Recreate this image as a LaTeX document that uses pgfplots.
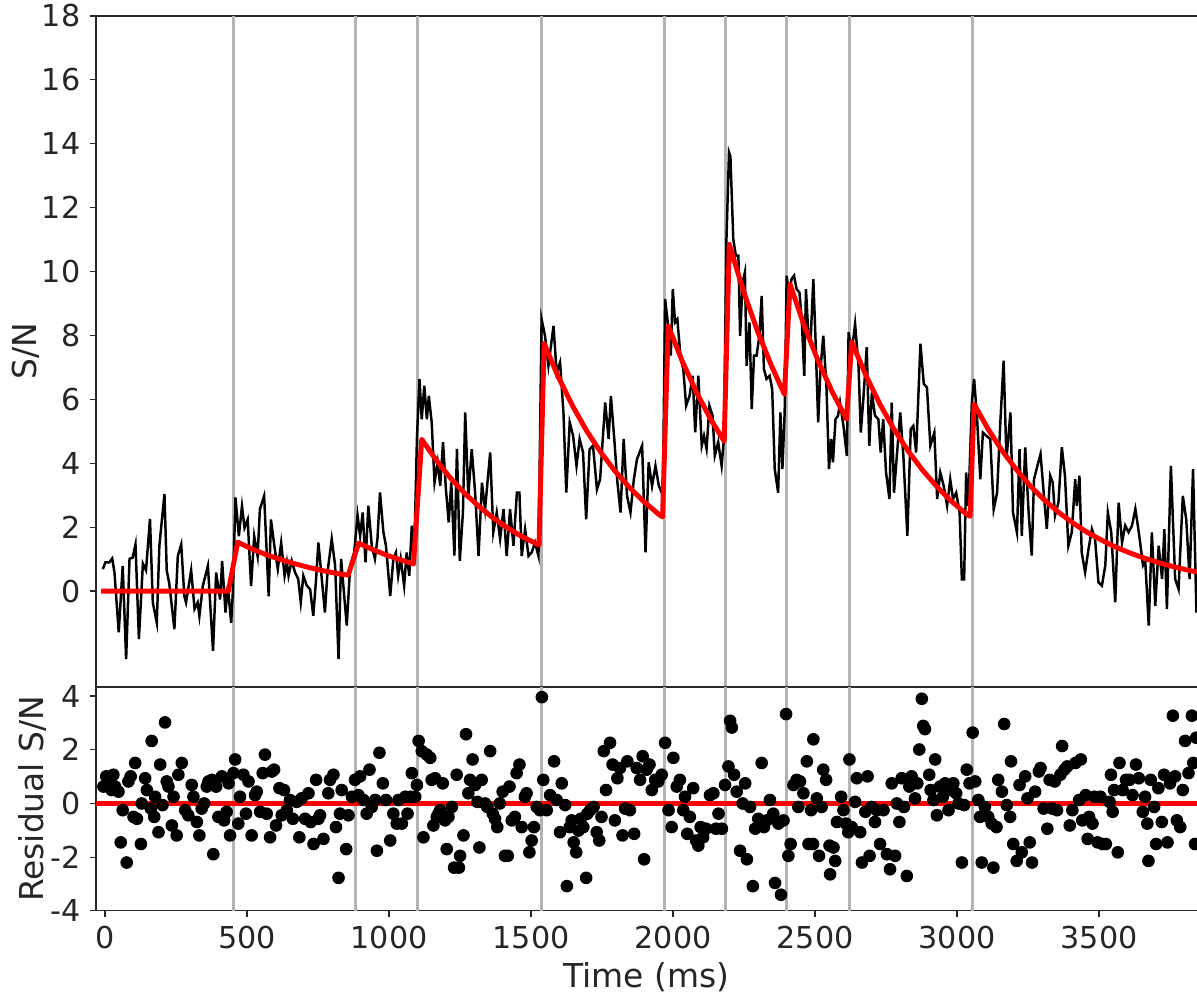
\documentclass[border=0pt]{standalone}
\usepackage{fontspec}
\setmainfont{DejaVu Sans}
\usepackage{pgfplots}
\pgfplotsset{compat=1.18}

\definecolor{vgray}{RGB}{180,180,180}
\definecolor{spine}{RGB}{40,40,40}

\pgfplotsset{
  common/.style={
    scale only axis,
    width=401.3pt,
    xmin=-32, xmax=3845,
    axis y line*=left,
    axis line style={spine, line width=0.45pt},
    tick align=outside,
    major tick length=2.2pt,
    every tick/.style={spine, line width=0.45pt},
    ytick pos=left, xtick pos=left,
    tick label style={font=\fontsize{11}{13}\selectfont, text=black!85},
    label style={font=\fontsize{12}{14}\selectfont, text=black!85},
    /pgf/number format/assume math mode=true,
    /pgf/number format/1000 sep={},
  },
}

\begin{document}
\begin{tikzpicture}
% upper panel: data and model
\begin{axis}[common, name=top,
  height=244.6pt,
  ymin=-3, ymax=18,
  ytick={0,2,...,18},
  xtick=\empty,
  ylabel={S/N},
  ylabel style={at={(axis description cs:-0.064,0.5)}, anchor=center},
]
\pgfplotsinvokeforeach{452,881,1101,1537,1970,2185,2401,2620,3055}{
  \addplot[vgray, line width=1.1pt, forget plot] coordinates {(#1,-3) (#1,18)};
}
% observed S/N
\addplot[black, line width=0.9pt] coordinates {
(-8,0.69) (1,0.90) (15,0.90) (25,1.02) (33,0.58) (48,-1.29) (62,0.79) (74,-2.13) (86,1.01) (97,1.05)
(107,1.46) (119,-1.50) (133,0.86) (144,0.65) (158,2.26) (168,-0.36) (182,-0.99) (191,1.41) (209,3.04) (217,0.65)
(226,0.23) (244,-1.19) (256,1.10) (268,1.46) (279,-0.16) (285,-0.36) (303,0.65) (315,-0.56) (326,-0.36) (332,-0.78)
(344,0.16) (362,0.79) (380,-1.87) (391,0.58) (405,-0.26) (412,0.94) (424,-0.67) (432,0.16) (444,-0.99) (450,0.00)
(459,2.93) (471,1.72) (482,2.66) (491,1.98) (502,2.24) (514,0.16) (525,1.72) (537,1.10) (545,2.56) (560,2.98)
(576,-0.16) (584,2.24) (596,1.41) (608,0.69) (620,1.51) (632,0.48) (640,0.90) (646,0.48) (657,0.95) (669,0.58)
(680,0.38) (689,-0.35) (698,0.48) (710,0.17) (722,0.06) (733,-0.77) (743,0.38) (751,1.52) (763,0.38) (774,-0.67)
(783,0.58) (798,1.63) (810,0.80) (822,-2.13) (831,1.01) (842,-0.15) (851,-1.08) (863,0.80) (877,1.21) (889,2.37)
(898,1.73) (907,2.46) (917,0.90) (927,2.67) (939,1.42) (950,1.01) (959,1.63) (968,3.09) (980,1.84) (989,1.42)
(1004,-0.15) (1015,1.01) (1024,1.21) (1032,0.48) (1041,1.01) (1053,0.17) (1062,1.21) (1071,0.48) (1080,2.05) (1088,0.90)
(1098,4.76) (1107,6.64) (1115,5.38) (1124,6.43) (1133,5.38) (1140,6.11) (1150,5.28) (1160,3.40) (1171,4.03) (1180,3.30)
(1190,4.66) (1200,3.20) (1210,2.15) (1219,3.40) (1230,1.11) (1239,4.45) (1249,0.95) (1260,2.46) (1268,5.59) (1279,2.98)
(1291,4.44) (1303,3.08) (1315,1.10) (1327,3.39) (1338,2.56) (1356,4.34) (1367,1.84) (1379,2.46) (1391,1.63) (1403,2.56)
(1414,1.10) (1426,2.56) (1438,1.42) (1450,3.08) (1459,3.08) (1467,1.10) (1479,1.94) (1491,1.10) (1502,1.21) (1514,1.52)
(1526,1.10) (1537,8.51) (1549,7.99) (1561,7.05) (1579,8.30) (1590,6.84) (1602,7.16) (1614,5.59) (1624,3.08) (1636,5.28)
(1648,4.86) (1660,3.92) (1671,4.76) (1683,4.34) (1694,2.25) (1706,4.44) (1718,4.55) (1732,3.18) (1743,3.50) (1761,5.90)
(1773,4.76) (1781,6.11) (1793,4.76) (1803,3.50) (1815,2.46) (1826,4.76) (1838,2.98) (1850,2.46) (1862,3.50) (1873,4.13)
(1891,4.55) (1903,1.21) (1914,4.03) (1926,3.29) (1938,3.92) (1950,3.29) (1955,3.19) (1964,2.98) (1972,9.14) (1984,8.20)
(1992,7.37) (1999,9.45) (2007,8.41) (2015,8.51) (2027,7.26) (2036,6.95) (2046,5.80) (2058,6.11) (2069,6.74) (2078,4.97)
(2089,6.74) (2101,4.55) (2109,4.86) (2118,4.45) (2128,5.80) (2139,5.49) (2147,4.24) (2159,4.66) (2171,3.92) (2179,4.76)
(2188,11.02) (2197,13.73) (2202,13.60) (2212,11.02) (2221,10.50) (2230,10.50) (2236,7.99) (2245,9.66) (2253,9.98) (2259,7.05)
(2269,8.41) (2277,5.70) (2285,7.37) (2294,7.37) (2304,7.99) (2312,9.24) (2320,6.95) (2329,6.64) (2340,6.74) (2349,6.32)
(2358,3.82) (2370,3.08) (2378,5.59) (2385,3.82) (2393,5.59) (2400,9.87) (2409,9.24) (2417,9.76) (2426,9.87) (2435,9.45)
(2445,9.35) (2453,8.51) (2462,6.74) (2468,9.45) (2476,8.09) (2485,7.99) (2494,9.76) (2502,7.78) (2511,5.28) (2519,6.95)
(2529,7.99) (2540,6.43) (2549,3.82) (2557,4.76) (2563,4.03) (2572,5.38) (2581,5.49) (2588,5.90) (2600,5.17) (2612,4.23)
(2618,8.10) (2629,7.47) (2641,8.36) (2653,7.05) (2661,4.96) (2670,6.01) (2682,7.63) (2691,4.55) (2700,6.22) (2711,5.49)
(2723,5.38) (2731,4.34) (2740,5.38) (2750,3.71) (2762,2.88) (2770,5.90) (2778,3.08) (2788,4.23) (2800,5.59) (2811,4.23)
(2825,1.73) (2837,5.07) (2846,5.17) (2856,4.34) (2871,7.74) (2883,6.48) (2894,6.38) (2906,4.55) (2920,4.96) (2930,2.88)
(2941,3.71) (2953,3.29) (2965,2.67) (2976,3.50) (2986,2.88) (2997,3.08) (3009,2.46) (3017,0.37) (3025,0.37) (3032,3.71)
(3040,2.67) (3052,5.90) (3060,6.64) (3070,5.49) (3082,3.50) (3091,4.96) (3103,4.86) (3117,4.76) (3129,2.56) (3141,3.08)
(3153,5.38) (3164,7.21) (3174,4.13) (3188,5.59) (3197,2.46) (3211,1.83) (3220,4.44) (3228,1.73) (3240,4.50) (3252,2.46)
(3263,1.11) (3271,3.50) (3283,3.92) (3294,4.29) (3304,3.20) (3316,1.94) (3328,3.61) (3337,3.40) (3345,2.36) (3357,2.77)
(3369,4.50) (3380,3.61) (3392,1.42) (3404,1.84) (3416,3.50) (3422,2.67) (3431,3.61) (3439,1.21) (3451,0.59) (3463,1.32)
(3475,1.94) (3486,1.63) (3498,0.27) (3510,0.17) (3522,0.80) (3531,2.46) (3543,1.84) (3557,-0.35) (3569,2.77) (3581,1.52)
(3592,2.05) (3604,1.84) (3616,2.05) (3628,2.57) (3640,1.84) (3655,0.80) (3663,0.90) (3675,-1.08) (3686,1.84) (3698,-0.46)
(3710,1.42) (3722,0.38) (3730,1.94) (3739,-0.56) (3753,3.92) (3768,0.38) (3780,0.06) (3795,2.98) (3807,2.25) (3819,0.38)
(3831,3.82) (3843,-0.67)
};
% model
\addplot[red, line width=1.8pt, line join=round] coordinates {
(-14,0) (434,0) (467,1.53) (517,1.32) (567,1.14) (617,0.99) (667,0.86) (717,0.74) (767,0.64) (817,0.55) (856,0.50)
(893,1.50) (943,1.30) (993,1.12) (1043,0.97) (1086,0.85)
(1115,4.75) (1165,4.11) (1215,3.55) (1265,3.07) (1315,2.66) (1365,2.30) (1415,1.99) (1465,1.72) (1528,1.44)
(1546,7.75) (1596,6.70) (1646,5.80) (1696,5.01) (1746,4.34) (1796,3.75) (1846,3.25) (1896,2.81) (1946,2.43) (1963,2.32)
(1983,8.30) (2033,7.18) (2083,6.21) (2133,5.37) (2180,4.69)
(2198,10.85) (2248,9.38) (2298,8.12) (2348,7.02) (2392,6.16)
(2412,9.60) (2462,8.30) (2512,7.18) (2562,6.21) (2611,5.38)
(2629,7.80) (2679,6.75) (2729,5.84) (2779,5.05) (2829,4.37) (2879,3.78) (2929,3.27) (2979,2.82) (3029,2.44) (3046,2.34)
(3060,5.85) (3110,5.06) (3160,4.38) (3210,3.79) (3260,3.27) (3310,2.83) (3360,2.45) (3410,2.12) (3460,1.83) (3510,1.59)
(3560,1.37) (3610,1.19) (3660,1.03) (3710,0.89) (3760,0.77) (3810,0.66) (3850,0.59)
};
\end{axis}

% lower panel: residuals
\begin{axis}[common,
  at={(top.south west)}, anchor=north west,
  height=81.6pt,
  ymin=-4, ymax=4.34,
  ytick={-4,-2,0,2,4},
  xtick={0,500,...,3500},
  xlabel={Time (ms)},
  xlabel style={yshift=2pt},
  ylabel={Residual S/N},
  ylabel style={at={(axis description cs:-0.058,0.5)}, anchor=center},
]
\pgfplotsinvokeforeach{452,881,1101,1537,1970,2185,2401,2620,3055}{
  \addplot[vgray, line width=1.1pt, forget plot] coordinates {(#1,-4) (#1,4.34)};
}
\addplot[only marks, mark=*, mark size=2.1pt, black] coordinates {
(-6,0.63) (4,1.01) (18,0.88) (29,1.07) (23,0.50) (35,0.63) (47,0.44) (55,-1.45) (62,-0.25) (76,-2.20)
(82,0.82) (90,1.01) (100,-0.50) (106,1.51) (112,-0.57) (126,-1.51) (129,0.00) (141,0.94) (147,0.50) (161,-0.19)
(164,2.33) (173,-0.50) (176,0.25) (188,-1.07) (194,1.45) (202,-0.06) (211,3.02) (217,0.82) (223,0.63) (235,-0.82)
(241,0.25) (252,-1.19) (258,1.07) (270,1.51) (282,-0.25) (293,-0.44) (305,0.69) (311,0.25) (323,-0.69) (332,-1.19)
(340,-0.19) (349,0.00) (358,0.63) (364,0.82) (376,0.88) (381,-1.89) (391,0.63) (399,-0.50) (411,1.01) (419,-0.63)
(428,-0.31) (435,0.75) (440,-1.19) (452,1.13) (458,1.64) (469,-0.75) (475,0.25) (487,1.07) (496,-0.38) (505,0.82)
(516,-1.19) (528,0.31) (534,0.44) (546,-0.31) (555,1.13) (563,1.82) (569,-0.38) (581,-1.26) (587,1.19) (595,1.26)
(602,-0.82) (614,0.57) (622,-0.44) (630,0.50) (640,-0.25) (651,0.13) (661,-0.57) (675,0.06) (684,-1.26) (692,0.19)
(704,-0.57) (716,0.38) (724,-0.69) (734,-1.51) (743,0.88) (751,-0.57) (757,-0.44) (769,-1.32) (786,0.38) (792,0.88)
(804,1.07) (813,-0.88) (822,-2.77) (827,-0.38) (833,0.50) (849,-1.70) (857,-0.44) (869,0.25) (880,0.88) (892,0.31)
(898,1.01) (910,0.13) (921,-0.38) (931,1.26) (939,-0.13) (951,0.13) (957,-1.76) (966,1.89) (978,0.75) (989,0.13)
(1004,-1.38) (1015,-0.38) (1027,-0.75) (1033,0.13) (1045,-0.75) (1057,0.25) (1065,-0.38) (1075,0.25) (1080,1.13) (1092,0.25)
(1098,0.69) (1104,2.33) (1115,1.95) (1121,-1.26) (1133,1.82) (1145,1.70) (1150,0.88) (1156,-0.82) (1162,0.94) (1168,-0.50)
(1174,-0.38) (1180,-0.25) (1189,0.75) (1197,-0.63) (1203,-1.70) (1209,-0.50) (1221,-0.13) (1229,-2.39) (1238,1.07) (1246,-2.39)
(1250,-1.95) (1262,-1.19) (1271,2.58) (1279,0.38) (1285,0.88) (1294,1.64) (1303,0.69) (1311,0.06) (1318,-1.64) (1326,0.88)
(1338,0.00) (1346,-0.13) (1356,1.95) (1365,-0.38) (1373,-0.57) (1381,-0.88) (1390,0.00) (1400,0.44) (1408,-1.95) (1418,-1.95)
(1424,0.63) (1432,-0.63) (1443,-0.50) (1449,1.13) (1459,1.45) (1467,-0.88) (1478,0.25) (1484,0.38) (1494,-1.82) (1502,-1.38)
(1510,-0.88) (1520,-0.13) (1531,-0.25) (1538,3.96) (1543,0.88) (1555,-0.25) (1567,0.31) (1581,1.57) (1590,0.13) (1602,-1.07)
(1608,0.75) (1620,-0.06) (1626,-3.08) (1636,-0.88) (1643,-0.63) (1650,-1.45) (1659,-1.82) (1667,-1.01) (1675,-0.57) (1684,-0.88)
(1694,-2.77) (1698,-0.38) (1708,-0.25) (1720,-0.13) (1731,-1.07) (1740,-1.38) (1748,-0.50) (1756,1.95) (1764,0.50) (1778,2.26)
(1787,1.45) (1795,-0.63) (1804,0.94) (1813,1.32) (1822,-1.19) (1831,-0.19) (1839,1.57) (1848,-0.25) (1863,-1.13) (1872,1.32)
(1884,0.88) (1893,1.76) (1898,-2.08) (1907,1.26) (1917,1.45) (1925,0.50) (1937,0.88) (1948,0.82) (1960,1.07) (1972,2.26)
(1984,-0.25) (1995,-0.88) (2001,1.70) (2013,0.63) (2024,0.88) (2036,-0.25) (2042,0.25) (2050,-1.13) (2059,-0.50) (2071,0.57)
(2081,-1.38) (2089,-1.57) (2097,-0.88) (2106,-1.26) (2116,-0.94) (2130,0.31) (2142,0.38) (2151,-0.94) (2160,-0.38) (2172,-0.94)
(2183,0.69) (2195,1.38) (2201,3.08) (2207,2.83) (2215,1.07) (2224,0.44) (2236,-1.76) (2245,0.00) (2254,0.75) (2260,-2.08)
(2271,-0.13) (2281,-3.08) (2289,-0.94) (2300,-0.57) (2312,1.51) (2320,-0.88) (2330,-0.63) (2341,0.13) (2353,-0.38) (2359,-2.96)
(2371,-0.75) (2380,-3.40) (2389,-0.63) (2398,3.33) (2406,-1.95) (2414,-1.51) (2424,0.69) (2435,0.88) (2441,-0.13) (2447,0.82)
(2459,0.38) (2471,1.57) (2477,-1.51) (2486,-0.25) (2493,-1.51) (2494,2.39) (2506,0.19) (2514,-1.95) (2523,-0.13) (2529,1.26)
(2539,0.88) (2551,-1.57) (2553,-2.64) (2565,-1.64) (2571,-2.14) (2577,-0.69) (2592,0.25) (2600,-0.25) (2609,-0.75) (2617,-1.07)
(2621,1.64) (2629,-0.88) (2641,0.06) (2647,0.94) (2659,-1.07) (2665,-2.20) (2677,-0.31) (2685,1.01) (2692,-1.95) (2699,-0.13)
(2711,-0.69) (2717,-0.25) (2729,-1.51) (2741,-0.25) (2753,-1.89) (2764,-2.45) (2770,0.75) (2782,-1.95) (2788,0.00) (2797,-0.69)
(2805,0.94) (2813,-0.13) (2823,-2.70) (2832,0.63) (2840,1.01) (2852,0.19) (2860,0.75) (2867,2.01) (2876,3.90) (2881,2.89)
(2887,2.77) (2902,1.07) (2907,0.50) (2917,0.13) (2923,1.64) (2929,-0.44) (2940,0.63) (2950,0.25) (2958,0.75) (2970,-0.25)
(2975,0.50) (2987,0.75) (2997,0.38) (3005,0.00) (3017,-2.20) (3025,-0.06) (3034,1.26) (3044,0.75) (3055,2.64) (3064,0.82)
(3075,0.13) (3081,-0.50) (3087,-2.20) (3098,-0.13) (3110,-0.50) (3122,-0.75) (3128,-2.39) (3139,-0.88) (3145,0.88) (3158,0.44)
(3166,2.96) (3175,-0.06) (3187,-0.50) (3190,1.57) (3198,-1.51) (3210,-2.14) (3220,0.69) (3228,-1.82) (3240,1.01) (3248,0.19)
(3256,-1.45) (3264,-2.20) (3275,0.44) (3288,1.19) (3294,1.32) (3305,-0.19) (3318,-0.94) (3326,0.88) (3335,-0.19) (3344,0.82)
(3352,-0.25) (3364,1.07) (3370,2.14) (3378,1.26) (3388,1.38) (3397,-0.82) (3406,-0.25) (3417,1.51) (3430,0.13) (3436,1.64)
(3441,-0.63) (3453,0.31) (3460,-1.32) (3465,-0.50) (3477,-0.75) (3484,0.25) (3495,-1.45) (3505,0.25) (3512,-1.51) (3524,-1.51)
(3537,0.06) (3542,1.07) (3548,-0.31) (3553,0.50) (3566,-1.82) (3572,1.51) (3583,0.50) (3595,0.88) (3607,0.88) (3618,0.31)
(3630,1.45) (3640,0.94) (3654,-0.31) (3662,0.25) (3670,-0.75) (3674,-2.14) (3682,0.88) (3694,-0.13) (3701,-1.51) (3709,0.57)
(3721,-0.69) (3729,1.07) (3741,-1.45) (3750,0.75) (3760,3.27) (3768,1.01) (3774,-0.63) (3786,-0.88) (3795,0.50) (3803,2.33)
(3815,1.13) (3827,3.27) (3832,1.51) (3838,-1.51) (3842,2.45)
};
\addplot[red, line width=1.8pt] coordinates {(-32,0) (3845,0)};
\end{axis}

\pgfresetboundingbox
\path ([shift={(-35.0pt,5.8pt)}]top.north west) rectangle ([shift={(401.3pt,-356.1pt)}]top.north west);
\end{tikzpicture}
\end{document}
